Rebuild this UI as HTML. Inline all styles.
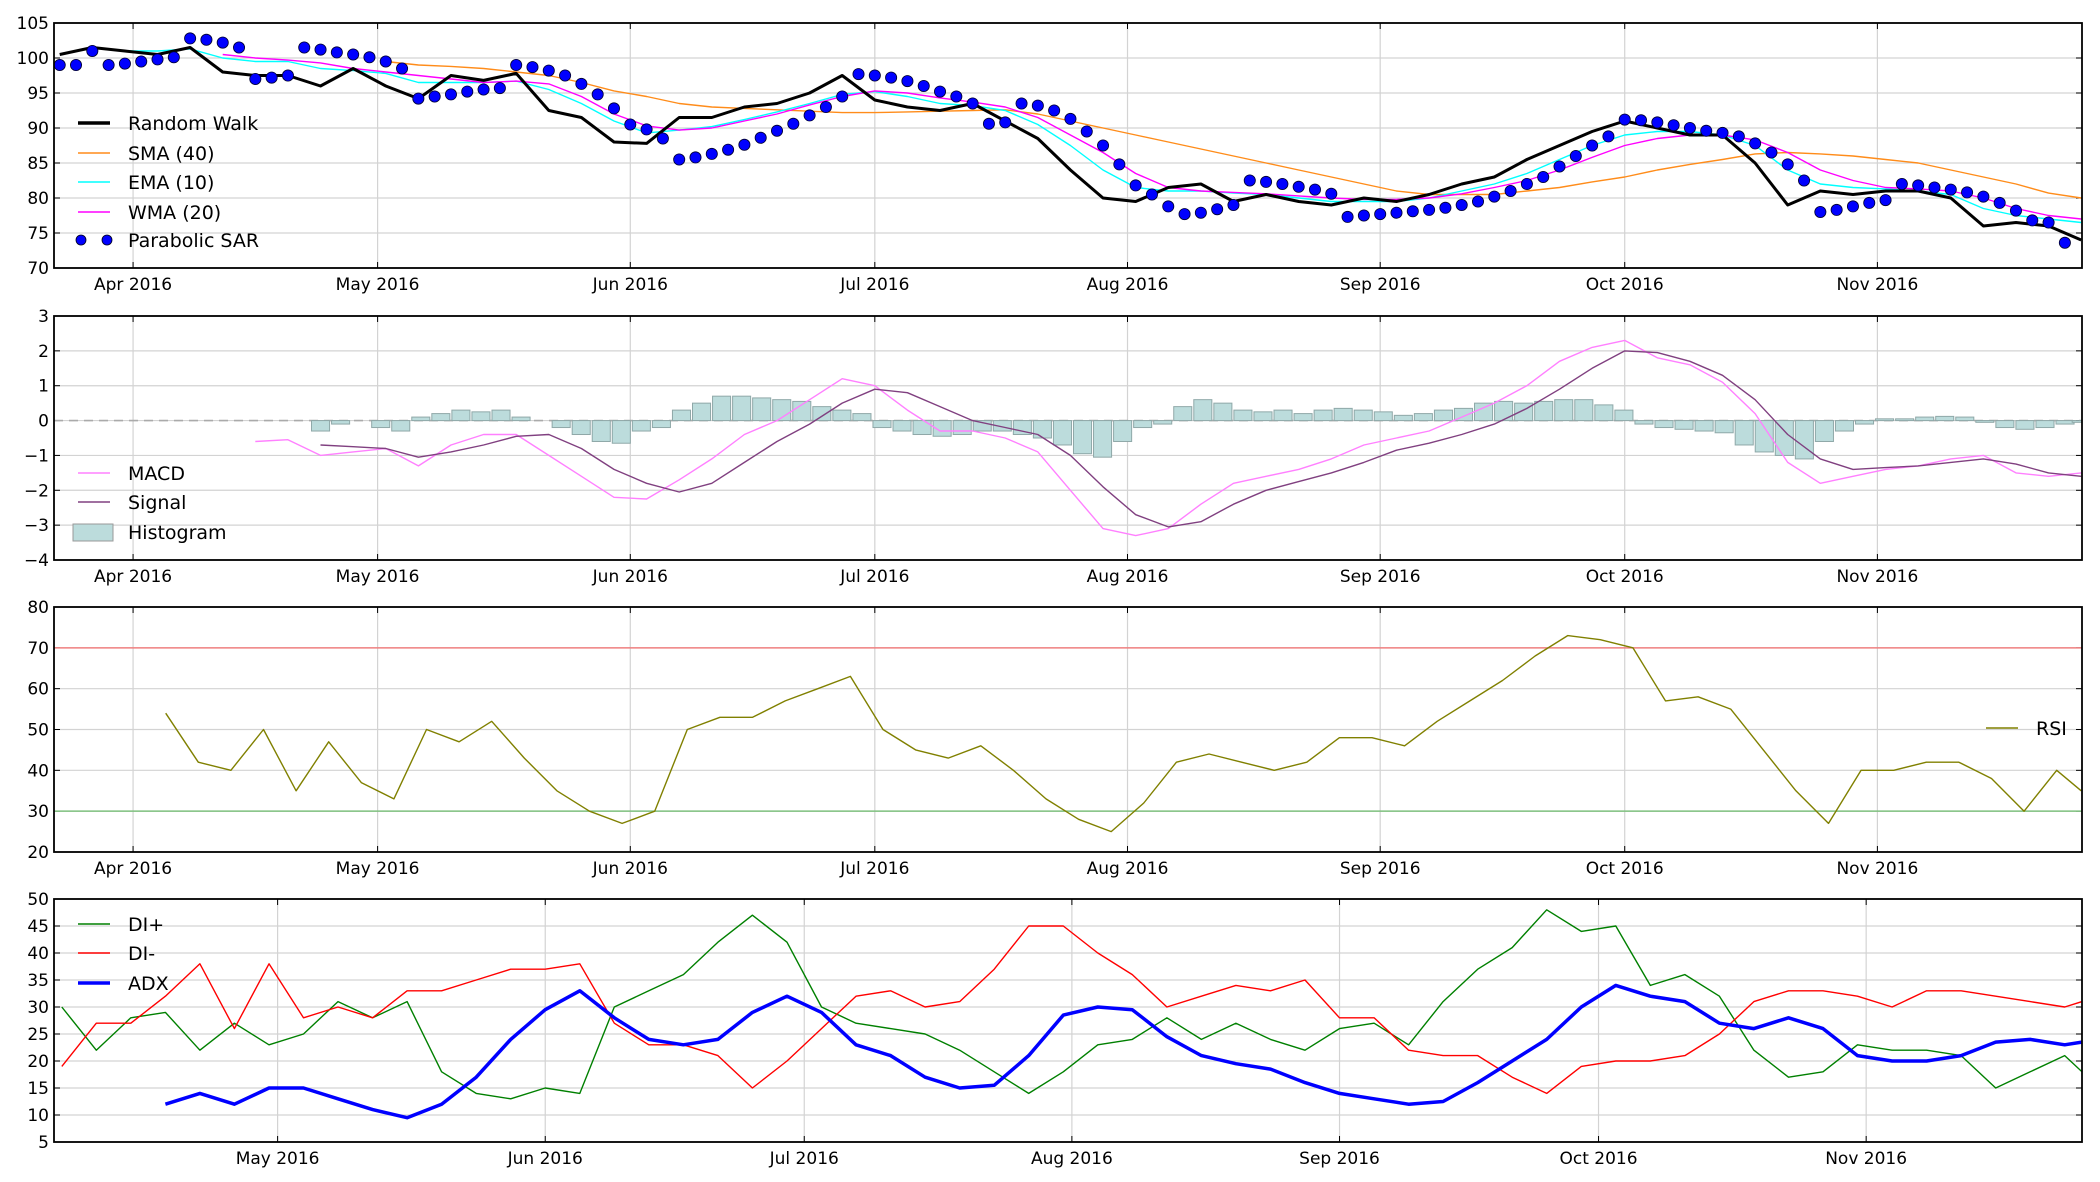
<!DOCTYPE html>
<html><head><meta charset="utf-8"><style>
html,body{margin:0;padding:0;background:#fff;}
svg{display:block;font-family:"DejaVu Sans","Liberation Sans",sans-serif;}
</style></head><body>
<svg id="chart" xmlns="http://www.w3.org/2000/svg" width="2100" height="1182" viewBox="0 0 2100 1182"></svg>
<script>
// ---- data (days since 2016-03-22) ----
const monthTicks = [10, 40, 71, 101, 132, 163, 193, 224];
const monthLabels = ["Apr 2016","May 2016","Jun 2016","Jul 2016","Aug 2016","Sep 2016","Oct 2016","Nov 2016"];
const adxMonthTicks = [40, 71, 101, 132, 163, 193, 224];
const adxMonthLabels = ["May 2016","Jun 2016","Jul 2016","Aug 2016","Sep 2016","Oct 2016","Nov 2016"];
const priceTicks = [70,75,80,85,90,95,100,105];
const macdTicks = [-4,-3,-2,-1,0,1,2,3];
const rsiTicks = [20,30,40,50,60,70,80];
const adxTicks = [5,10,15,20,25,30,35,40,45,50];

const walk = [100.5,101.5,101,100.5,101.5,98,97.5,97.5,96,98.5,96,94.2,97.5,96.8,97.8,92.5,91.5,88,87.8,91.5,91.5,93,93.5,95,97.5,94,93,92.5,93.5,91,88.5,84,80,79.5,81.5,82,79.5,80.5,79.5,79,80,79.5,80.5,82,83,85.5,87.5,89.5,91,90,89,89,85,79,81,80.5,81,81,80,76,76.5,76,74];
const ema = [101,101,101.3,100,99.5,99.5,98.5,98.2,97.8,96.5,96.5,96.5,96.7,95.5,93.5,91,89.3,89.7,90.2,91.2,92.3,93.5,94.8,95.2,94.5,93.5,93.2,92.5,90.5,87.5,84,81.5,81,81,80.7,80.5,80,79.5,79.5,79.5,80,81,82,83.5,85.5,87.5,89,89.5,89.5,89,87.5,84,82,81.5,81.3,81,80.5,78.5,77.5,77,76.5];
const wma = [100.5,100,99.7,99.3,98.5,98,97.5,97,96.5,96.7,96.3,94.5,92,90.3,89.7,90,91,92,93.3,94.5,95.3,95,94.3,93.7,93,91.5,89,86.5,83.5,81.5,81,80.8,80.6,80.3,80,79.8,79.8,80,80.6,81.5,82.5,84,85.8,87.5,88.5,89,89,88.3,86.5,84,82.5,81.5,81.3,81,80,78.5,77.5,77];
const sma = [99.5,99,98.8,98.5,98,97.5,96.5,95.3,94.5,93.5,93,92.8,92.6,92.4,92.2,92.2,92.3,92.4,92.5,92.6,92,91,90,89,88,87,86,85,84,83,82,81,80.5,80.5,80.5,81,81.5,82.3,83,84,84.8,85.5,86.3,86.5,86.3,86,85.5,85,84,83,82,80.7,80];
const sar = [99,99,101,99,99.2,99.5,99.8,100.1,102.8,102.6,102.2,101.5,97,97.2,97.5,101.5,101.2,100.8,100.5,100.1,99.5,98.5,94.2,94.5,94.8,95.2,95.5,95.7,99,98.7,98.2,97.5,96.3,94.8,92.8,90.5,89.8,88.5,85.5,85.8,86.3,86.9,87.6,88.6,89.6,90.6,91.8,93,94.5,97.7,97.5,97.2,96.7,96,95.2,94.5,93.5,90.6,90.8,93.5,93.2,92.5,91.3,89.5,87.5,84.8,81.8,80.5,78.8,77.7,77.9,78.4,79,82.5,82.3,82,81.6,81.2,80.6,77.3,77.5,77.7,77.9,78.1,78.3,78.6,79,79.5,80.2,81,82,83,84.5,86,87.5,88.8,91.2,91.1,90.8,90.4,90,89.6,89.3,88.8,87.8,86.5,84.8,82.5,78,78.3,78.8,79.3,79.7,82,81.8,81.5,81.2,80.8,80.2,79.3,78.2,76.8,76.5,73.6];

const macd = [-0.6,-0.55,-1.0,-0.9,-0.8,-1.3,-0.7,-0.4,-0.4,-1.0,-1.6,-2.2,-2.25,-1.7,-1.1,-0.4,0,0.6,1.2,1.0,0.3,-0.3,-0.3,-0.5,-0.9,-2.0,-3.1,-3.3,-3.1,-2.4,-1.8,-1.6,-1.4,-1.1,-0.7,-0.5,-0.3,0.1,0.5,1.0,1.7,2.1,2.3,1.8,1.6,1.1,0.2,-1.2,-1.8,-1.6,-1.4,-1.3,-1.1,-1.0,-1.5,-1.6,-1.5];
const signal = [-0.7,-0.75,-0.8,-1.05,-0.9,-0.7,-0.45,-0.4,-0.8,-1.4,-1.8,-2.05,-1.8,-1.2,-0.6,-0.1,0.5,0.9,0.8,0.4,0,-0.2,-0.4,-1.0,-1.9,-2.7,-3.05,-2.9,-2.4,-2.0,-1.75,-1.5,-1.2,-0.85,-0.65,-0.4,-0.1,0.35,0.9,1.5,2.0,1.95,1.7,1.3,0.6,-0.4,-1.1,-1.4,-1.35,-1.3,-1.2,-1.1,-1.25,-1.5,-1.6];
const hist = [-0.3,-0.1,0,-0.2,-0.3,0.1,0.2,0.3,0.25,0.3,0.1,0,-0.2,-0.4,-0.6,-0.65,-0.3,-0.2,0.3,0.5,0.7,0.7,0.65,0.6,0.55,0.4,0.3,0.2,-0.2,-0.3,-0.4,-0.45,-0.4,-0.3,-0.3,-0.4,-0.5,-0.7,-0.95,-1.05,-0.6,-0.2,-0.1,0.4,0.6,0.5,0.3,0.25,0.3,0.2,0.3,0.35,0.3,0.25,0.15,0.2,0.3,0.35,0.5,0.55,0.5,0.55,0.6,0.6,0.45,0.3,-0.1,-0.2,-0.25,-0.3,-0.35,-0.7,-0.9,-1.0,-1.1,-0.6,-0.3,-0.1,0.05,0.05,0.1,0.12,0.1,-0.05,-0.2,-0.25,-0.2,-0.1,-0.05];

const rsi = [54,42,40,50,35,47,37,33,50,47,52,43,35,30,27,30,50,53,53,57,60,63,50,45,43,46,40,33,28,25,32,42,44,42,40,42,48,48,46,52,57,62,68,73,72,70,57,58,55,45,35,27,40,40,42,42,38,30,40,35];

const diPlus = [30,22,28,29,22,27,23,25,31,28,31,18,14,13,15,14,30,33,36,42,47,42,30,27,26,25,22,18,14,18,23,24,28,24,27,24,22,26,27,23,31,37,41,48,44,45,34,36,32,22,17,18,23,22,22,21,15,18,21,18];
const diMinus = [19,27,27,32,38,26,38,28,30,28,33,33,35,37,37,38,27,23,23,21,15,20,26,32,33,30,31,37,45,45,40,36,30,32,34,33,35,28,28,22,21,21,17,14,19,20,20,21,25,31,33,33,32,30,33,33,32,31,30,31];
const adx = [12,14,12,15,15,13,11,9.5,12,17,24,29.5,33,28,24,23,24,29,32,29,23,21,17,15,15.5,21,28.5,30,29.5,24.5,21,19.5,18.5,16,14,13,12,12.5,16,20,24,30,34,32,31,27,26,28,26,21,20,20,21,23.5,24,23,23.5];

// ---- helpers ----
const NS = "http://www.w3.org/2000/svg";
const svg = document.getElementById("chart");
const LAST = 249;
function dayList(n, start, step){ const a=[]; for(let i=0;i<n;i++){ a.push(Math.min(start+step*i, LAST)); } return a; }
function mk(tag, attrs, parent){ const e=document.createElementNS(NS,tag); for(const k in attrs) e.setAttribute(k, attrs[k]); (parent||svg).appendChild(e); return e; }

const L=54, R=2082;
function makePanel(top,bottom,ymin,ymax,dmin,dmax){
  return { top, bottom,
    x: d => L + (d-dmin)/(dmax-dmin)*(R-L),
    y: v => bottom - (v-ymin)/(ymax-ymin)*(bottom-top) };
}
const p1 = makePanel(23,268,70,105,0.3,249.1);
const p2 = makePanel(316,560,-4,3,0.3,249.1);
const p3 = makePanel(607,852,20,80,0.3,249.1);
const p4 = makePanel(899,1142,5,50,14.1,249);

function frame(p, name, yt, xt, xl){
  const g = mk("g",{});
  
  
  mk("defs",{},g);
  const cp = mk("clipPath",{id:name+"-clip"},g);
  mk("rect",{x:L,y:p.top,width:R-L,height:p.bottom-p.top},cp);
  yt.forEach(v=>{
    const yy=p.y(v);
    const gl = mk("line",{x1:L,x2:R,y1:yy,y2:yy,stroke:"#d3d3d3","stroke-width":1.2},g);
    
    
    mk("line",{x1:L,x2:L+6,y1:yy,y2:yy,stroke:"#000","stroke-width":1},g);
    mk("line",{x1:R-6,x2:R,y1:yy,y2:yy,stroke:"#000","stroke-width":1},g);
    const t = mk("text",{x:L-5,y:yy+6,"text-anchor":"end","font-size":17,fill:"#000"},g);
    t.textContent = (v<0?"\u2212"+Math.abs(v):String(v));
    
    
  });
  xt.forEach((d,i)=>{
    const xx=p.x(d);
    const gl = mk("line",{x1:xx,x2:xx,y1:p.top,y2:p.bottom,stroke:"#d3d3d3","stroke-width":1.2},g);
    
    
    mk("line",{x1:xx,x2:xx,y1:p.bottom-6,y2:p.bottom,stroke:"#000","stroke-width":1},g);
    mk("line",{x1:xx,x2:xx,y1:p.top,y2:p.top+6,stroke:"#000","stroke-width":1},g);
    const t = mk("text",{x:xx,y:p.bottom+22,"text-anchor":"middle","font-size":17,fill:"#000"},g);
    t.textContent = xl[i];
    
    
  });
}
function border(p,name){
  const b = mk("rect",{x:L,y:p.top,width:R-L,height:p.bottom-p.top,fill:"none",stroke:"#000","stroke-width":1.8});
  
  
}
function line(p, clip, vals, start, step, color, w, name){
  const days = dayList(vals.length, start, step);
  const pts = vals.map((v,i)=>p.x(days[i]).toFixed(1)+","+p.y(v).toFixed(1)).join(" ");
  const e = mk("polyline",{points:pts,fill:"none",stroke:color,"stroke-width":w,"stroke-linejoin":"round","clip-path":"url(#"+clip+"-clip)"});
  
  
  return e;
}
function legend(x, y, label, color, w, name, kind){
  const g = mk("g",{});
  
  
  if(kind==="dots"){
    mk("circle",{cx:x+3,cy:y,r:5,fill:"#0000ff",stroke:"#000018","stroke-width":0.8},g);
    mk("circle",{cx:x+29,cy:y,r:5,fill:"#0000ff",stroke:"#000018","stroke-width":0.8},g);
  } else if(kind==="box"){
    mk("rect",{x:x-5,y:y-8,width:40,height:17,fill:"#bcdcdc",stroke:"#999","stroke-width":1},g);
  } else {
    mk("line",{x1:x,x2:x+32,y1:y,y2:y,stroke:color,"stroke-width":w},g);
  }
  const t = mk("text",{x:x+50,y:y+7,"font-size":19,fill:"#000"},g);
  t.textContent = label;
}

// ---- panel 1: price ----
frame(p1,"price",priceTicks,monthTicks,monthLabels);
line(p1,"price",sma,41,4,"#ff8c1a",1.4,"sma-40-line");
line(p1,"price",ema,9,4,"#00ffff",1.4,"ema-10-line");
line(p1,"price",wma,21,4,"#ff00ff",1.4,"wma-20-line");
line(p1,"price",walk,1,4,"#000",3,"random-walk-line");
{
  const days = dayList(sar.length,1,2);
  sar.forEach((v,i)=>{
    const c = mk("circle",{cx:p1.x(days[i]),cy:p1.y(v),r:5.6,fill:"#0000ff",stroke:"#000030","stroke-width":0.8,"clip-path":"url(#price-clip)"});
    
    
  });
}
border(p1,"price");
legend(78,123,"Random Walk","#000",3.5,"legend-random-walk");
legend(78,153,"SMA (40)","#ff8c1a",1.5,"legend-sma-40");
legend(78,182,"EMA (10)","#00ffff",1.5,"legend-ema-10");
legend(78,212,"WMA (20)","#ff00ff",1.5,"legend-wma-20");
legend(78,240,"Parabolic SAR","#0000ff",1,"legend-parabolic-sar","dots");

// ---- panel 2: MACD ----
frame(p2,"macd",macdTicks,monthTicks,monthLabels);
{
  const z = mk("line",{x1:L,x2:R,y1:p2.y(0),y2:p2.y(0),stroke:"#aaa","stroke-width":1.6,"stroke-dasharray":"9,6"});
  
  
  const step=2.46, days=dayList(hist.length,33,step), bw=step*(R-L)/(249.1-0.3);
  hist.forEach((v,i)=>{
    const y0=p2.y(0), yv=p2.y(v);
    const b = mk("rect",{x:p2.x(days[i])-bw/2+1,y:Math.min(y0,yv),width:bw-2,height:Math.abs(yv-y0),fill:"#bcdcdc",stroke:"#8fa8a8","stroke-width":1,"clip-path":"url(#macd-clip)"});
    
    
  });
}
line(p2,"macd",macd,25,4,"#ff80ff",1.4,"macd-line");
line(p2,"macd",signal,33,4,"#804080",1.4,"signal-line");
border(p2,"macd");
legend(78,473,"MACD","#ff80ff",1.5,"legend-macd");
legend(78,502,"Signal","#804080",1.5,"legend-signal");
legend(78,532,"Histogram","#bcdcdc",1,"legend-histogram","box");

// ---- panel 3: RSI ----
frame(p3,"rsi",rsiTicks,monthTicks,monthLabels);
{
  const a = mk("line",{x1:L,x2:R,y1:p3.y(70),y2:p3.y(70),stroke:"#f08080","stroke-width":1.5});
  
  
  const b = mk("line",{x1:L,x2:R,y1:p3.y(30),y2:p3.y(30),stroke:"#7fc07f","stroke-width":1.5});
  
  
}
line(p3,"rsi",rsi,14,4,"#808000",1.4,"rsi-line");
border(p3,"rsi");
legend(1986,728,"RSI","#808000",1.5,"legend-rsi");

// ---- panel 4: ADX ----
frame(p4,"adx",adxTicks,adxMonthTicks,adxMonthLabels);
line(p4,"adx",diPlus,15,4,"#008000",1.4,"di-plus-line");
line(p4,"adx",diMinus,15,4,"#ff0000",1.4,"di-minus-line");
line(p4,"adx",adx,27,4,"#0000ff",3.5,"adx-line");
border(p4,"adx");
legend(78,924,"DI+","#008000",1.5,"legend-di-plus");
legend(78,953,"DI-","#ff0000",1.5,"legend-di-minus");
legend(78,983,"ADX","#0000ff",3.5,"legend-adx");
</script>
</body></html>
